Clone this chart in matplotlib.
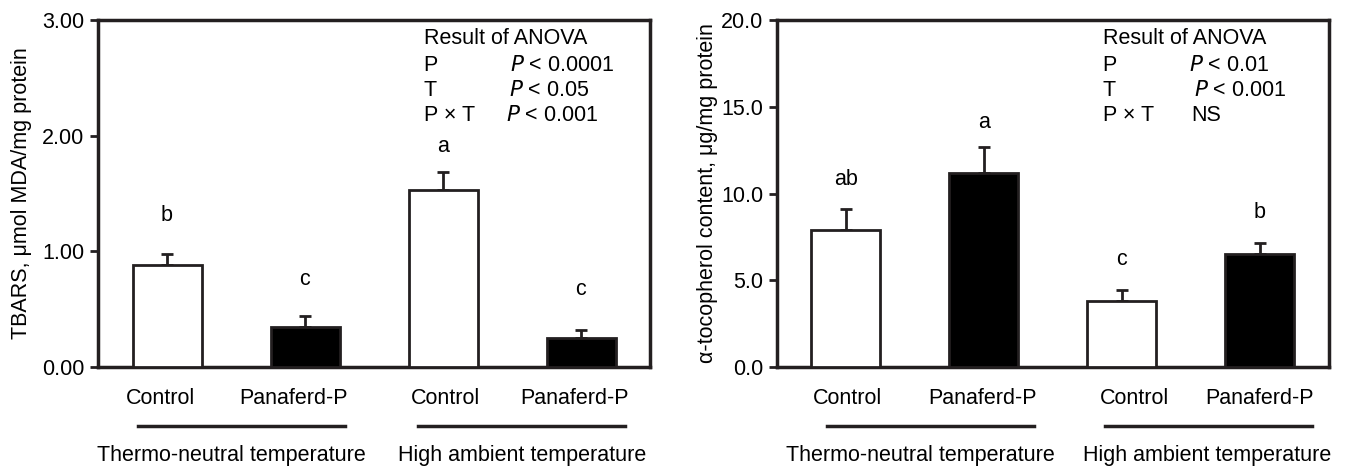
import matplotlib.pyplot as plt
import matplotlib.transforms as mtransforms

plt.rcParams['font.family'] = ['Liberation Sans', 'DejaVu Sans']
plt.rcParams['font.size'] = 15.5

# data
treatments = ['Control', 'Panaferd-P', 'Control', 'Panaferd-P']
temperatures = ['Thermo-neutral temperature', 'High ambient temperature']
bar_colors = ['white', 'black', 'white', 'black']

tbars_mean = [0.88, 0.35, 1.53, 0.25]
tbars_err = [0.10, 0.09, 0.16, 0.07]
tbars_letters = ['b', 'c', 'a', 'c']
tbars_letter_y = [1.31, 0.76, 1.91, 0.67]
tbars_anova = [r'$\it{P}$ < 0.0001', r'$\it{P}$ < 0.05', r'$\it{P}$ < 0.001']

toco_mean = [7.9, 11.18, 3.81, 6.51]
toco_err = [1.20, 1.52, 0.62, 0.66]
toco_letters = ['ab', 'a', 'c', 'b']
toco_letter_y = [10.8, 14.1, 6.2, 8.9]
toco_anova = [r'$\it{P}$ < 0.01', r'$\it{P}$ < 0.001', 'NS']

anova_terms = ['P', 'T', 'P × T']
x_pos = [0.5, 1.5, 2.5, 3.5]

fig = plt.figure(figsize=(13.48, 4.67), dpi=100)
ax1 = fig.add_axes([98 / 1348, 1 - 367 / 467, 552 / 1348, 347 / 467])
ax2 = fig.add_axes([777 / 1348, 1 - 367 / 467, 552 / 1348, 347 / 467])


def draw_panel(ax, mean, err, letters, letter_y, anova, ylim, yticks, fmt, ylabel,
               pv_x, lab_x, cat_x, group_x, group_lines):
    ax.bar(x_pos, mean, width=0.5, color=bar_colors, edgecolor='#231f20', linewidth=2, zorder=3)
    ax.errorbar(x_pos, mean, yerr=[[0] * len(err), err], fmt='none', ecolor='#231f20',
                elinewidth=2, capsize=4, capthick=2, zorder=2)
    for x, s, y in zip(x_pos, letters, letter_y):
        ax.text(x, y, s, ha='center', va='center')

    ax.set_xlim(0, 4)
    ax.set_ylim(*ylim)
    ax.set_yticks(yticks)
    ax.set_yticklabels([fmt.format(v) for v in yticks])
    ax.set_xticks([])
    for sp in ax.spines.values():
        sp.set_linewidth(2.5)
        sp.set_color('#231f20')
    ax.tick_params(axis='y', direction='out', length=6, width=2, color='#231f20', pad=4)
    ax.set_ylabel(ylabel)
    ax.yaxis.set_label_coords(lab_x, 0.5)

    # ANOVA text block
    ax.text(0.59, 0.946, 'Result of ANOVA', transform=ax.transAxes, va='center')
    for i, (term, pv) in enumerate(zip(anova_terms, anova)):
        yy = 0.870 - 0.073 * i
        ax.text(0.59, yy, term, transform=ax.transAxes, va='center')
        ax.text(pv_x[i], yy, pv, transform=ax.transAxes, va='center')

    # category and group labels below the axis
    trans = mtransforms.blended_transform_factory(ax.transData, ax.transAxes)
    for x, s in zip(cat_x, treatments):
        ax.text(x, -0.092, s, ha='center', va='center', transform=trans)
    for (x0, x1), gx, s in zip(group_lines, group_x, temperatures):
        ax.plot([x0, x1], [-0.17, -0.17], color='#231f20', lw=2.5, transform=trans, clip_on=False)
        ax.text(gx, -0.254, s, ha='center', va='center', transform=trans)


draw_panel(ax1, tbars_mean, tbars_err, tbars_letters, tbars_letter_y, tbars_anova,
           (0, 3), [0, 1, 2, 3], '{:.2f}', 'TBARS, μmol MDA/mg protein',
           [0.746, 0.745, 0.739], -0.12,
           [0.45, 1.42, 2.52, 3.45], [0.97, 3.07], [(0.29, 1.79), (2.32, 3.82)])
draw_panel(ax2, toco_mean, toco_err, toco_letters, toco_letter_y, toco_anova,
           (0, 20), [0, 5, 10, 15, 20], '{:.1f}', 'α-tocopherol content, μg/mg protein',
           [0.746, 0.755, 0.751], -0.107,
           [0.51, 1.49, 2.59, 3.50], [1.04, 3.12], [(0.36, 1.86), (2.38, 3.88)])

fig.savefig('out.png', dpi=100)
